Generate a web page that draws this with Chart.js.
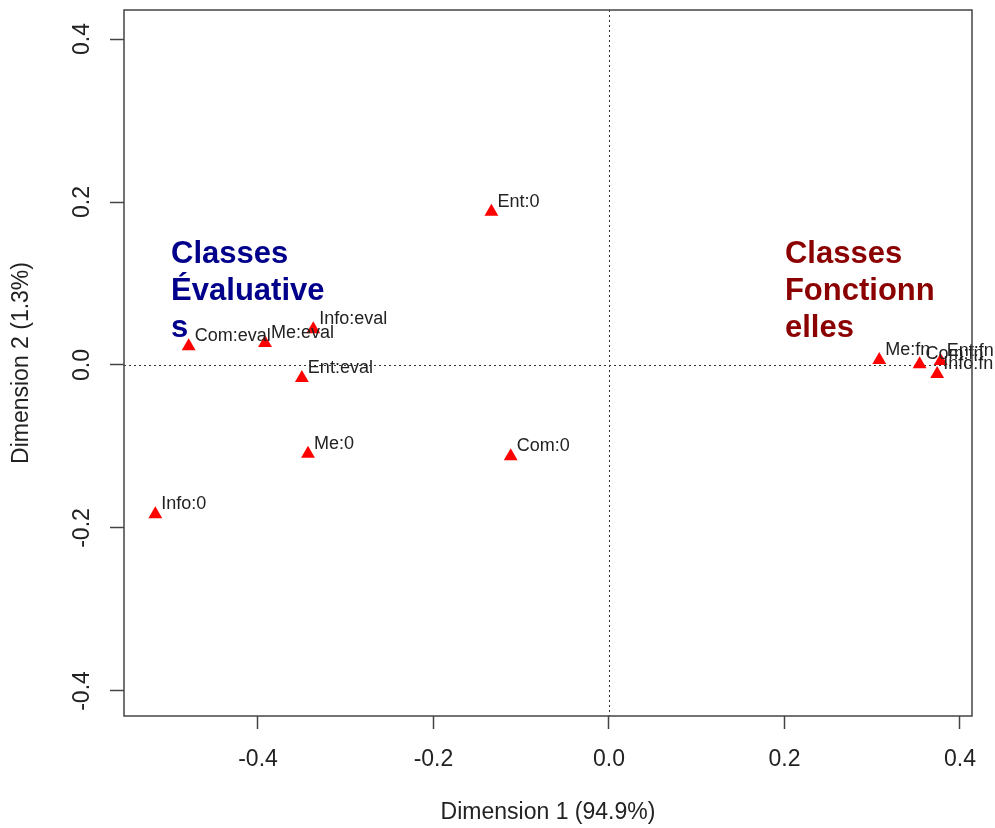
<!DOCTYPE html>
<html>
<head>
<meta charset="utf-8">
<script src="https://cdn.jsdelivr.net/npm/chart.js@4.4.1/dist/chart.umd.min.js"></script>
<style>
    html, body { margin: 0; padding: 0; background: #ffffff; }
    #caPlot { display: block; }
</style>
</head>
<body>
<canvas id="caPlot" width="995" height="828"></canvas>
<script>
// category labels and their coordinates on the two first dimensions
const pointNames = ["Ent:0", "Com:eval", "Me:eval", "Info:eval", "Ent:eval", "Me:0", "Com:0", "Info:0", "Me:fn", "Com:fn", "Ent:fn", "Info:fn"];
const dim1Values = [-0.134, -0.479, -0.392, -0.337, -0.350, -0.343, -0.112, -0.517, 0.308, 0.354, 0.378, 0.374];
const dim2Values = [0.188, 0.023, 0.027, 0.044, -0.016, -0.109, -0.112, -0.183, 0.006, 0.001, 0.005, -0.011];

const xTickValues = [-0.4, -0.2, 0.0, 0.2, 0.4];
const yTickValues = [-0.4, -0.2, 0.0, 0.2, 0.4];

const xAxisTitle = "Dimension 1 (94.9%)";
const yAxisTitle = "Dimension 2 (1.3%)";

// group annotations, one entry per text line
const evaluativeLines = ["Classes", "Évaluative", "s"];
const fonctionnelleLines = ["Classes", "Fonctionn", "elles"];

const FONT = "'Liberation Sans', Arial, Helvetica, sans-serif";

function buildPoints() {
    var pts = [];
    for (var i = 0; i < pointNames.length; i++) {
        pts.push({ x: dim1Values[i], y: dim2Values[i] });
    }
    return pts;
}

// box, dotted zero lines, point labels and group annotations
const decorationsPlugin = {
    id: "decorations",
    beforeDatasetsDraw(chart) {
        const ctx = chart.ctx;
        const area = chart.chartArea;
        const xs = chart.scales.x;
        const ys = chart.scales.y;
        ctx.save();
        ctx.strokeStyle = "#333333";
        ctx.lineWidth = 1;
        ctx.setLineDash([2, 3]);
        var x0 = Math.round(xs.getPixelForValue(0)) + 0.5;
        var y0 = Math.round(ys.getPixelForValue(0)) + 0.5;
        ctx.beginPath();
        ctx.moveTo(x0, area.top);
        ctx.lineTo(x0, area.bottom);
        ctx.moveTo(area.left, y0);
        ctx.lineTo(area.right, y0);
        ctx.stroke();
        ctx.restore();
    },
    afterDatasetsDraw(chart) {
        const ctx = chart.ctx;
        const area = chart.chartArea;
        const xs = chart.scales.x;
        const ys = chart.scales.y;
        ctx.save();
        // point labels, a little right of and above each triangle
        ctx.font = "18px " + FONT;
        ctx.fillStyle = "#222222";
        ctx.textAlign = "left";
        ctx.textBaseline = "alphabetic";
        for (var i = 0; i < pointNames.length; i++) {
            var px = xs.getPixelForValue(dim1Values[i]);
            var py = ys.getPixelForValue(dim2Values[i]);
            ctx.fillText(pointNames[i], px + 6, py - 5);
        }
        // group annotations
        drawTextBlock(ctx, evaluativeLines, xs.getPixelForValue(-0.499), ys.getPixelForValue(0.125), "#00008b");
        drawTextBlock(ctx, fonctionnelleLines, xs.getPixelForValue(0.2005), ys.getPixelForValue(0.125), "#8b0000");
        // plot box
        ctx.strokeStyle = "#444444";
        ctx.lineWidth = 1.5;
        ctx.setLineDash([]);
        ctx.strokeRect(area.left, area.top, area.right - area.left, area.bottom - area.top);
        ctx.restore();
    }
};

function drawTextBlock(ctx, lines, x, y, color) {
    ctx.font = "bold 31px " + FONT;
    ctx.fillStyle = color;
    for (var i = 0; i < lines.length; i++) {
        ctx.fillText(lines[i], x, y + i * 37);
    }
}

function fixedTicks(values) {
    return function (scale) {
        scale.ticks = values.map(v => ({ value: v }));
    };
}

const chartData = {
    datasets: [{
        data: buildPoints(),
        pointStyle: "triangle",
        pointRadius: 8,
        backgroundColor: "#ff0000",
        borderWidth: 0,
        showLine: false
    }]
};

const chartOptions = {
    responsive: false,
    animation: false,
    events: [],
    layout: { padding: { top: 10, right: 23, left: 0, bottom: 0 } },
    plugins: {
        legend: { display: false },
        tooltip: { enabled: false }
    },
    scales: {
        x: {
            type: "linear",
            min: -0.5527,
            max: 0.4137,
            afterBuildTicks: fixedTicks(xTickValues),
            afterFit: function (scale) {
                scale.height = 112;
                scale.paddingLeft = 0;
                scale.paddingRight = 0;
            },
            border: { display: false },
            grid: {
                drawOnChartArea: false,
                drawTicks: true,
                tickLength: 13,
                tickColor: "#444444",
                tickWidth: 1.5
            },
            ticks: {
                autoSkip: false,
                maxRotation: 0,
                padding: 17,
                color: "#222222",
                font: { family: FONT, size: 23 },
                callback: v => Number(v).toFixed(1)
            },
            title: {
                display: true,
                text: xAxisTitle,
                color: "#222222",
                font: { family: FONT, size: 23 },
                padding: { top: 0, bottom: 2 }
            }
        },
        y: {
            type: "linear",
            min: -0.4307,
            max: 0.4356,
            afterBuildTicks: fixedTicks(yTickValues),
            afterFit: function (scale) {
                scale.width = 124;
                scale.paddingTop = 0;
                scale.paddingBottom = 0;
            },
            border: { display: false },
            grid: {
                drawOnChartArea: false,
                drawTicks: true,
                tickLength: 14,
                tickColor: "#444444",
                tickWidth: 1.5
            },
            ticks: {
                autoSkip: false,
                minRotation: 90,
                maxRotation: 90,
                crossAlign: "center",
                padding: 8,
                color: "#222222",
                font: { family: FONT, size: 23 },
                callback: v => Number(v).toFixed(1)
            },
            title: {
                display: true,
                text: yAxisTitle,
                color: "#222222",
                font: { family: FONT, size: 23 },
                padding: { top: 8, bottom: 0 }
            }
        }
    }
};

const ctx = document.getElementById("caPlot").getContext("2d");
chartObject = new Chart(ctx, {
    type: "scatter",
    data: chartData,
    options: chartOptions,
    plugins: [decorationsPlugin]
});
</script>
</body>
</html>
